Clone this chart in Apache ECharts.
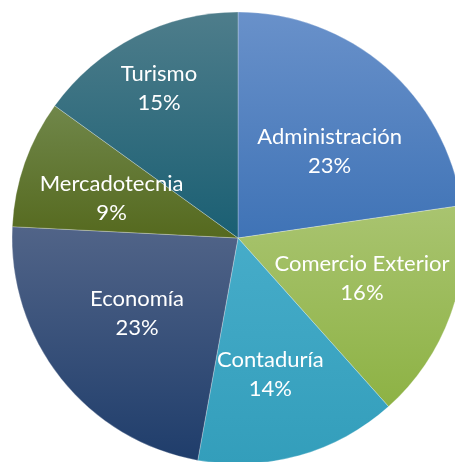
<!DOCTYPE html>
<html>
<head>
<meta charset="utf-8">
<script src="https://cdn.jsdelivr.net/npm/echarts@6/dist/echarts.min.js"></script>
<style>
  html, body { margin: 0; padding: 0; background: #fff; }
  #chart { width: 455px; height: 462px; }
</style>
</head>
<body>
<div id="chart"></div>
<script>
// áreas (sentido horario desde las 12)
const areas = ['Administración', 'Comercio Exterior', 'Contaduría', 'Economía', 'Mercadotecnia', 'Turismo']
const valores = [22.7, 15.7, 14.45, 22.95, 9.15, 15.05]

// degradado por rebanada: [arriba, abajo]
const colores = [
  ['#6991ca', '#3f73b6'],
  ['#a9c470', '#8db244'],
  ['#46acc9', '#339ebb'],
  ['#516488', '#1f3d6b'],
  ['#70874a', '#55691e'],
  ['#4e7d8b', '#1a5f73']
]

// ajuste fino de las etiquetas (px)
const desplazamientos = [[4, 15], [-2, -5], [-4, 7], [4, -8], [0, 5], [-18, -30]]

const grad = (c) => new echarts.graphic.LinearGradient(0, 0, 0, 1, [
  { offset: 0, color: c[0] }, { offset: 1, color: c[1] }
])

const chart = echarts.init(document.getElementById('chart'))
const total = valores.reduce((a, b) => a + b, 0)

chart.setOption({
  animation: false,
  series: [
    {
      // pastel visible
      type: 'pie',
      center: [238, 238],
      radius: 226,
      startAngle: 90,
      clockwise: true,
      silent: true,
      label: { show: false },
      labelLine: { show: false },
      data: areas.map((name, i) => ({
        name, value: valores[i],
        itemStyle: { color: grad(colores[i]), borderColor: 'rgba(255,255,255,0.45)', borderWidth: 0.6 }
      }))
    },
    {
      // capa transparente solo para etiquetas
      type: 'pie',
      center: [238, 238],
      radius: [36, 226],
      startAngle: 90,
      clockwise: true,
      silent: true,
      itemStyle: { color: 'transparent' },
      label: {
        show: true,
        position: 'inside',
        color: '#fff',
        fontFamily: 'Lato',
        fontSize: 22,
        lineHeight: 29,
        align: 'center',
        formatter: (p) => p.name + '\n' + Math.round(p.value / total * 100) + '%'
      },
      labelLine: { show: false },
      data: areas.map((name, i) => ({
        name, value: valores[i],
        label: { offset: desplazamientos[i] }
      }))
    }
  ]
})
</script>
</body>
</html>
